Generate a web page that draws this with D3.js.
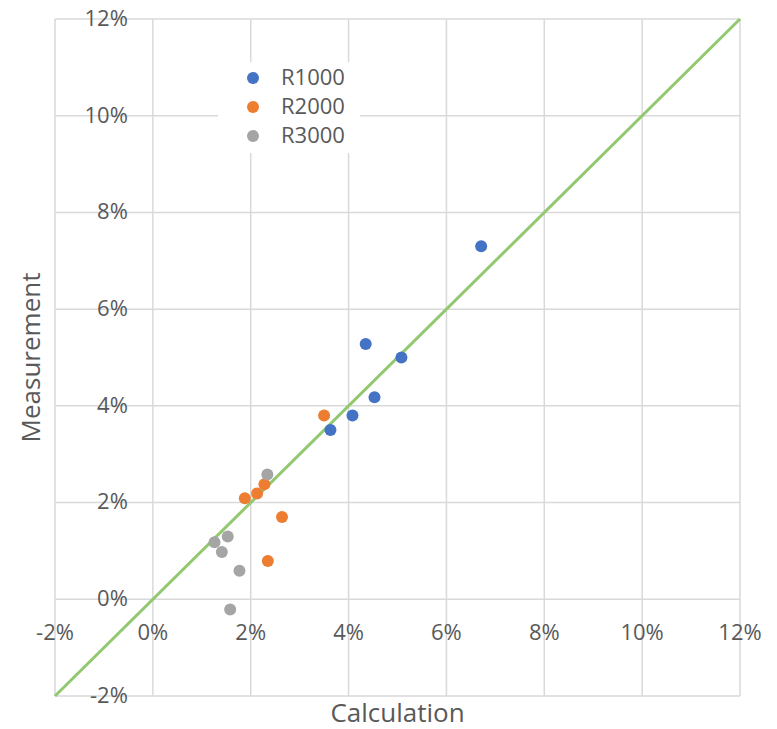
<!DOCTYPE html>
<html>
<head>
<meta charset="utf-8">
<script src="https://cdn.jsdelivr.net/npm/d3@7"></script>
<style>
  html, body { margin: 0; padding: 0; background: #fff; }
  svg { display: block; }
  text { font-family: "Open Sans", "Noto Sans", sans-serif; fill: #595959; }
</style>
</head>
<body>
<svg id="chart" width="777" height="729"></svg>
<script>
// Axis ticks (percent)
const xTicks = [-2, 0, 2, 4, 6, 8, 10, 12];
const yTicks = [-2, 0, 2, 4, 6, 8, 10, 12];

// Series: calculated vs measured (percent)
const seriesNames = ["R1000", "R2000", "R3000"];
const seriesColors = ["#4472C4", "#ED7D31", "#A5A5A5"];

const r1000Calc = [6.71, 4.35, 5.08, 4.53, 4.08, 3.63];
const r1000Meas = [7.30, 5.28, 5.00, 4.18, 3.80, 3.50];

const r2000Calc = [3.50, 1.88, 2.13, 2.28, 2.64, 2.35];
const r2000Meas = [3.80, 2.09, 2.19, 2.38, 1.70, 0.79];

const r3000Calc = [2.34, 1.26, 1.53, 1.41, 1.77, 1.58];
const r3000Meas = [2.58, 1.18, 1.30, 0.98, 0.59, -0.21];

// Reference line y = x
const refLine = [[-2, -2], [12, 12]];

const seriesData = [
  { name: seriesNames[0], color: seriesColors[0], xs: r1000Calc, ys: r1000Meas },
  { name: seriesNames[1], color: seriesColors[1], xs: r2000Calc, ys: r2000Meas },
  { name: seriesNames[2], color: seriesColors[2], xs: r3000Calc, ys: r3000Meas }
];

const svg = d3.select("#chart");
const margin = { left: 55, right: 37, top: 19, bottom: 33 };
const W = 777, H = 729;

const x = d3.scaleLinear().domain([-2, 12]).range([margin.left, W - margin.right]);
const y = d3.scaleLinear().domain([-2, 12]).range([H - margin.bottom, margin.top]);

const gridColor = "#D9D9D9";

// Gridlines
svg.append("g").selectAll("line").data(xTicks).join("line")
  .attr("x1", d => x(d)).attr("x2", d => x(d))
  .attr("y1", y(-2)).attr("y2", y(12))
  .attr("stroke", gridColor).attr("stroke-width", 1.5);
svg.append("g").selectAll("line").data(yTicks).join("line")
  .attr("y1", d => y(d)).attr("y2", d => y(d))
  .attr("x1", x(-2)).attr("x2", x(12))
  .attr("stroke", gridColor).attr("stroke-width", 1.5);

// Tick labels: the value axis crosses at 0, labels sit beside it
svg.append("g").selectAll("text").data(xTicks).join("text")
  .attr("x", d => x(d)).attr("y", y(0) + 35)
  .attr("text-anchor", "middle").attr("dominant-baseline", "middle")
  .attr("font-size", 22)
  .text(d => d + "%");
svg.append("g").selectAll("text").data(yTicks).join("text")
  .attr("x", x(0) - 25).attr("y", d => y(d) + 1)
  .attr("text-anchor", "end").attr("dominant-baseline", "middle")
  .attr("font-size", 22)
  .text(d => d + "%");

// y = x line
svg.append("path")
  .datum(refLine)
  .attr("d", d3.line().x(d => x(d[0])).y(d => y(d[1])))
  .attr("fill", "none").attr("stroke", "#92C870").attr("stroke-width", 3);

// Points
seriesData.forEach(s => {
  svg.append("g").selectAll("circle").data(s.xs.map((v, i) => [v, s.ys[i]])).join("circle")
    .attr("cx", d => x(d[0])).attr("cy", d => y(d[1])).attr("r", 6)
    .attr("fill", s.color);
});

// Legend
const legend = svg.append("g");
legend.append("rect")
  .attr("x", 218).attr("y", 62).attr("width", 142).attr("height", 91)
  .attr("fill", "#fff");
seriesData.forEach((s, i) => {
  const cy = 78 + i * 29;
  legend.append("circle").attr("cx", 253).attr("cy", cy).attr("r", 6).attr("fill", s.color);
  legend.append("text").attr("x", 281).attr("y", cy + 1)
    .attr("dominant-baseline", "middle").attr("font-size", 22).text(s.name);
});

// Axis titles
svg.append("text")
  .attr("x", (x(-2) + x(12)) / 2).attr("y", 715)
  .attr("text-anchor", "middle").attr("dominant-baseline", "middle")
  .attr("font-size", 26).text("Calculation");
svg.append("text")
  .attr("transform", `translate(33,${(y(-2) + y(12)) / 2}) rotate(-90)`)
  .attr("text-anchor", "middle").attr("dominant-baseline", "middle")
  .attr("font-size", 26).text("Measurement");
</script>
</body>
</html>
